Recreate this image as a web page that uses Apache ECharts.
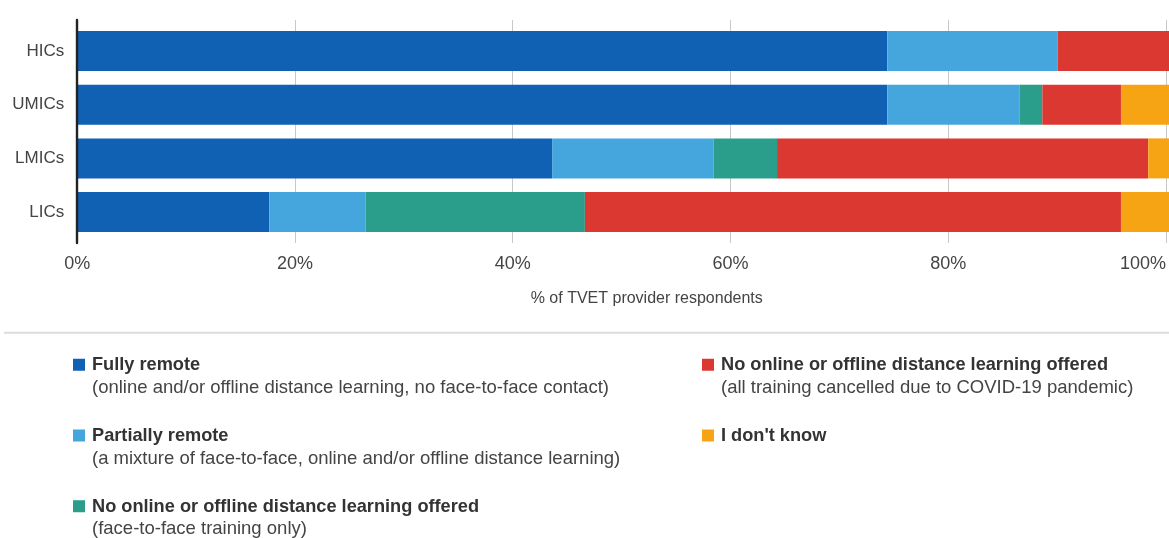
<!DOCTYPE html>
<html>
<head>
<meta charset="utf-8">
<script src="https://cdn.jsdelivr.net/npm/echarts@6/dist/echarts.min.js"></script>
<style>
html,body{margin:0;padding:0;background:#fff;}
#chart{width:1169px;height:538px;}
</style>
</head>
<body>
<div id="chart"></div>
<script>
const categories = ['HICs', 'UMICs', 'LMICs', 'LICs'];
const fullyRemote = [74.2, 74.2, 43.5, 17.6];
const partiallyRemote = [15.6, 12.1, 14.8, 8.8];
const faceToFaceOnly = [0, 2.1, 5.8, 20.1];
const allCancelled = [10.2, 7.2, 34.0, 49.1];
const dontKnow = [0, 4.4, 1.9, 4.4];
const xTicks = [0, 20, 40, 60, 80, 100];
const xAxisTitle = '% of TVET provider respondents';

const seriesKeys = ['fully', 'partial', 'f2f', 'cancelled', 'dontknow'];
const seriesHeads = ['Fully remote', 'Partially remote', 'No online or offline distance learning offered', 'No online or offline distance learning offered', "I don't know"];
const seriesDescs = ['(online and/or offline distance learning, no face-to-face contact)', '(a mixture of face-to-face, online and/or offline distance learning)', '(face-to-face training only)', '(all training cancelled due to COVID-19 pandemic)', ''];
const seriesColors = ['#1060b4', '#44a6dd', '#2a9e8a', '#db3831', '#f6a414'];
const seriesValues = [fullyRemote, partiallyRemote, faceToFaceOnly, allCancelled, dontKnow];

const FONT = '"Liberation Sans", Arial, sans-serif';
const rich = {
  e: {fontSize: 18, lineHeight: 23, fontFamily: FONT, padding: [0, 0, 0, 2]},
  b: {fontSize: 18.2, lineHeight: 23, fontWeight: 'bold', color: '#333', fontFamily: FONT, padding: [0, 0, 0, 2]},
  d: {fontSize: 18.5, lineHeight: 22.5, color: '#444', fontFamily: FONT, padding: [0, 0, 0, 2]}
};
function legendFmt(name) {
  const i = seriesKeys.indexOf(name);
  return '{e| }\n{b|' + seriesHeads[i] + '}\n{d|' + (seriesDescs[i] || ' ') + '}';
}
const legendBase = {
  orient: 'vertical', top: 333, height: 400, padding: 0, itemGap: 6.5,
  icon: 'rect', itemWidth: 12, itemHeight: 12, selectedMode: false,
  formatter: legendFmt, textStyle: {rich: rich}
};

const chart = echarts.init(document.getElementById('chart'), null, {renderer: 'canvas'});
chart.setOption({
  animation: false,
  backgroundColor: '#fff',
  textStyle: {fontFamily: FONT},
  grid: [
    {left: 77.2, width: 1092.5, top: 24.2, height: 214.7},
    {left: 77.2, width: 1092.5, top: 20, height: 223}
  ],
  xAxis: [
    {type: 'value', gridIndex: 0, min: 0, max: 100, show: false},
    {type: 'value', gridIndex: 1, min: 0, max: 100, interval: 20,
     axisLine: {show: false}, axisTick: {show: false},
     splitLine: {show: true, lineStyle: {color: '#c8c8c8', width: 1}},
     axisLabel: {formatter: '{value}%', fontSize: 18, color: '#444', margin: 12, fontFamily: FONT,
                 alignMaxLabel: 'right'}}
  ],
  yAxis: [
    {type: 'category', gridIndex: 0, data: categories, inverse: true,
     axisLine: {show: false}, axisTick: {show: false},
     axisLabel: {fontSize: 17, color: '#444', margin: 13, fontFamily: FONT, padding: [4, 0, 0, 0]}},
    {type: 'value', gridIndex: 1, min: 0, max: 1, z: 10,
     axisLine: {show: true, lineStyle: {color: '#222', width: 2.4}},
     axisTick: {show: false}, axisLabel: {show: false}, splitLine: {show: false}}
  ],
  legend: [
    Object.assign({}, legendBase, {left: 73, data: seriesKeys.slice(0, 3)}),
    Object.assign({}, legendBase, {left: 702, data: seriesKeys.slice(3)})
  ],
  graphic: [
    {type: 'text', left: 646.7 - 116, top: 291,
     style: {text: xAxisTitle, fontSize: 16, fill: '#444', fontFamily: FONT}},
    {type: 'line', shape: {x1: 4, y1: 332.7, x2: 1169, y2: 332.7},
     style: {stroke: '#dcdcdc', lineWidth: 2}}
  ],
  series: seriesKeys.map((k, i) => ({
    name: k, type: 'bar', stack: 'total', xAxisIndex: 0, yAxisIndex: 0,
    barWidth: 40, itemStyle: {color: seriesColors[i]},
    data: seriesValues[i]
  }))
});
</script>
</body>
</html>
